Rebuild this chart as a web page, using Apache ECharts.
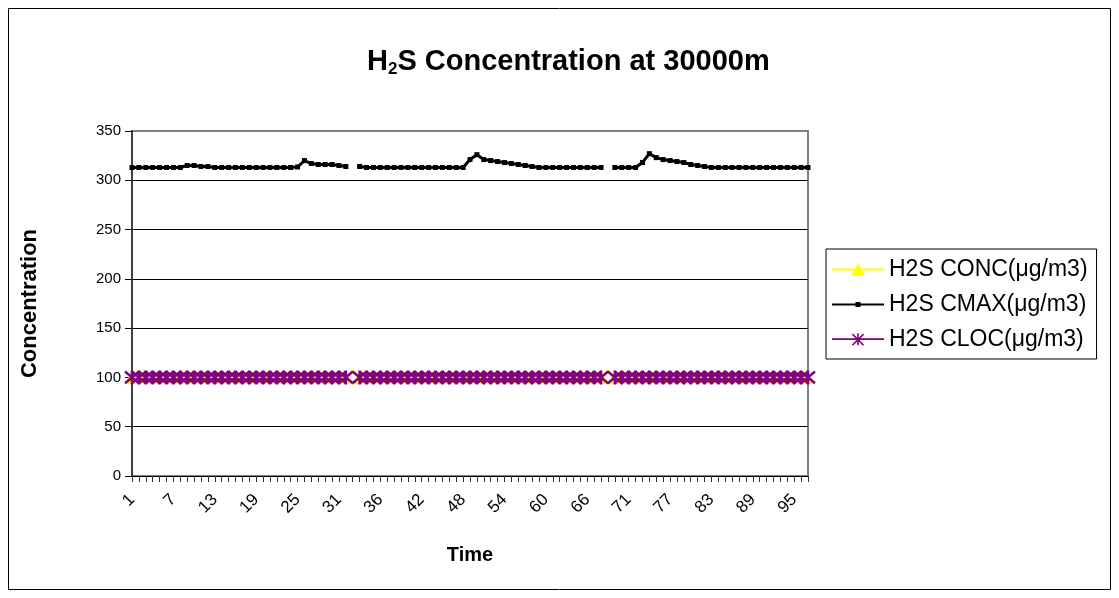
<!DOCTYPE html>
<html>
<head>
<meta charset="utf-8">
<script src="https://cdn.jsdelivr.net/npm/echarts@6/dist/echarts.min.js"></script>
<style>
html,body{margin:0;padding:0;background:#fff;}
#c{width:1119px;height:598px;}
</style>
</head>
<body>
<div id="c"></div>
<script>
// ---- data ----
// categories: 1..32, blank, 33..68, blank, 69..97
const categories = ["1","2","3","4","5","6","7","8","9","10","11","12","13","14","15","16","17","18","19","20","21","22","23","24","25","26","27","28","29","30","31","32","",
"33","34","35","36","37","38","39","40","41","42","43","44","45","46","47","48","49","50","51","52","53","54","55","56","57","58","59","60","61","62","63","64","65","66","67","68","",
"69","70","71","72","73","74","75","76","77","78","79","80","81","82","83","84","85","86","87","88","89","90","91","92","93","94","95","96","97"];
const blankIndices = [32, 69];

const cmax = [313,313,313,313,313,313,313,313,315,315,314,314,313,313,313,313,313,313,313,313,313,313,313,313,313.5,320,317,316,316,316,315,314,null,
314,313,313,313,313,313,313,313,313,313,313,313,313,313,313,313,321,326,321,320,319,318,317,316,315,314,313,313,313,313,313,313,313,313,313,313,null,
313,313,313,313,318,327,323,321,320,319,318,316,315,314,313,313,313,313,313,313,313,313,313,313,313,313,313,313,313];

const conc = [100,100,100,100,100,100,100,100,100,100,100,100,100,100,100,100,100,100,100,100,100,100,100,100,100,100,100,100,100,100,100,100,100,
100,100,100,100,100,100,100,100,100,100,100,100,100,100,100,100,100,100,100,100,100,100,100,100,100,100,100,100,100,100,100,100,100,100,100,100,100,
100,100,100,100,100,100,100,100,100,100,100,100,100,100,100,100,100,100,100,100,100,100,100,100,100,100,100,100,100];

const cloc = [100,100,100,100,100,100,100,100,100,100,100,100,100,100,100,100,100,100,100,100,100,100,100,100,100,100,100,100,100,100,100,100,null,
100,100,100,100,100,100,100,100,100,100,100,100,100,100,100,100,100,100,100,100,100,100,100,100,100,100,100,100,100,100,100,100,100,100,100,100,null,
100,100,100,100,100,100,100,100,100,100,100,100,100,100,100,100,100,100,100,100,100,100,100,100,100,100,100,100,100];

const seriesNames = ["H2S CONC(μg/m3)", "H2S CMAX(μg/m3)", "H2S CLOC(μg/m3)"];
const yTicks = {min: 0, max: 350, interval: 50};

// ---- chart ----
const FONT = "Liberation Sans, Arial, sans-serif";
const asterisk = 'path://M5,0L5,10M0.8,0.8L9.2,9.2M9.2,0.8L0.8,9.2';

// legend icons (line + marker), filled shapes
const iconConc = 'path://M0,7h52v2h-52Z M19,14L26,2L33,14Z';
const iconCmax = 'path://M0,7h52v2h-52Z M23.5,5.5h5v5h-5Z';
const iconCloc = 'path://M0,7.2h52v1.6h-52Z M25.2,2h1.6v12h-1.6Z M21.03,2.43L32.17,13.57L31.03,14.71L19.89,3.57Z M30.97,2.43L32.11,3.57L20.97,14.71L19.83,13.57Z';

const concData = conc.map((v, i) => blankIndices.includes(i)
  ? {value: v, symbol: 'diamond', symbolSize: [10, 14], itemStyle: {color: '#ffffff', borderColor: '#ffff00', borderWidth: 2}}
  : v);

const chart = echarts.init(document.getElementById('c'), null, {renderer: 'canvas'});
chart.setOption({
  animation: false,
  backgroundColor: '#ffffff',
  title: {
    text: '{b|H}{s|2}{b|S Concentration at 30000m}',
    left: 362, top: 41,
    textStyle: {
      rich: {
        b: {fontSize: 29, fontWeight: 'bold', fontFamily: FONT, color: '#000', lineHeight: 32},
        s: {fontSize: 17, fontWeight: 'bold', fontFamily: FONT, color: '#000', lineHeight: 14, verticalAlign: 'bottom'}
      }
    }
  },
  graphic: [{
    type: 'rect', silent: true,
    shape: {x: 8.5, y: 8.5, width: 1102, height: 581},
    style: {fill: 'none', stroke: '#000', lineWidth: 1}
  }],
  legend: {
    orient: 'vertical',
    left: 826, top: 249,
    itemWidth: 52, itemHeight: 14, itemGap: 12,
    padding: [9, 9, 8, 6],
    symbolKeepAspect: true,
    borderColor: '#000', borderWidth: 1,
    itemStyle: {borderWidth: 0},
    textStyle: {fontSize: 23, color: '#000', fontFamily: FONT},
    data: [
      {name: seriesNames[0], icon: iconConc},
      {name: seriesNames[1], icon: iconCmax},
      {name: seriesNames[2], icon: iconCloc}
    ]
  },
  grid: {
    left: 132, top: 131, width: 676, height: 345,
    show: true, borderColor: '#808080', borderWidth: 2, backgroundColor: 'transparent'
  },
  xAxis: {
    type: 'category',
    data: categories,
    boundaryGap: false,
    name: 'Time', nameLocation: 'middle', nameGap: 69,
    nameTextStyle: {fontSize: 20, fontWeight: 'bold', color: '#000', fontFamily: FONT},
    axisLine: {show: true, lineStyle: {color: '#000', width: 1}},
    axisTick: {show: true, interval: 0, length: 6, lineStyle: {color: '#333'}},
    axisLabel: {interval: 5, rotate: 45, fontSize: 17, color: '#000', fontFamily: FONT, margin: 21},
    splitLine: {show: false}
  },
  yAxis: {
    type: 'value',
    min: yTicks.min, max: yTicks.max, interval: yTicks.interval,
    name: 'Concentration', nameLocation: 'middle', nameGap: 91,
    nameTextStyle: {fontSize: 22, fontWeight: 'bold', color: '#000', fontFamily: FONT},
    axisLine: {show: true, lineStyle: {color: '#404040', width: 2}},
    axisTick: {show: true, length: 7, lineStyle: {color: '#000'}},
    axisLabel: {fontSize: 15, color: '#000', fontFamily: FONT, margin: 11},
    splitLine: {show: true, lineStyle: {color: ['#000','#000','#000','#000','#000','#000','#000','#808080'], width: 1}}
  },
  series: [
    {
      name: seriesNames[0], type: 'line', data: concData,
      showAllSymbol: true, connectNulls: false,
      symbol: 'triangle', symbolSize: [14, 13],
      itemStyle: {color: '#ffff00'},
      lineStyle: {color: '#ffff00', width: 2}
    },
    {
      name: seriesNames[1], type: 'line', data: cmax,
      showAllSymbol: true, connectNulls: false,
      symbol: 'rect', symbolSize: 5,
      itemStyle: {color: '#000'},
      lineStyle: {color: '#000', width: 3}
    },
    {
      name: seriesNames[2], type: 'line', data: cloc,
      showAllSymbol: true, connectNulls: false,
      symbol: asterisk, symbolSize: 14,
      itemStyle: {color: '#800080', borderColor: '#800080', borderWidth: 2.5},
      lineStyle: {color: '#800080', width: 2}
    }
  ]
});
</script>
</body>
</html>
